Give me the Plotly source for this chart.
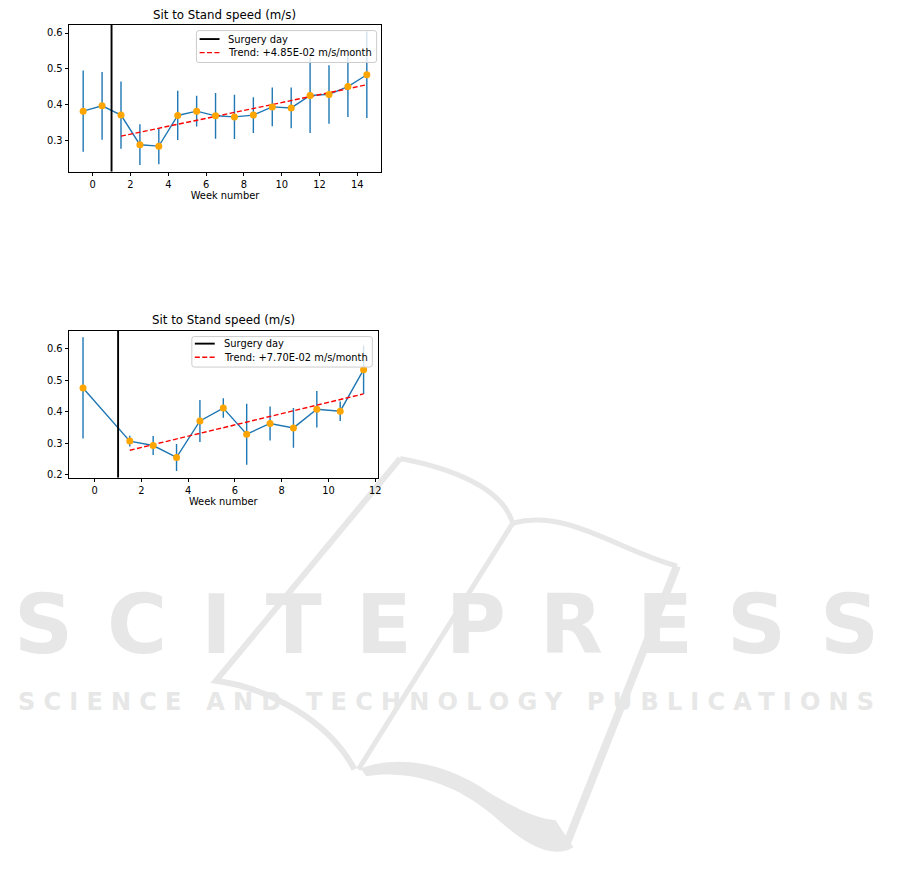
import plotly.graph_objects as go

# ---------------- data ----------------
weeks_a = [-0.5, 0.5, 1.5, 2.5, 3.5, 4.5, 5.5, 6.5, 7.5, 8.5, 9.5, 10.5, 11.5, 12.5, 13.5, 14.5]
speed_a = [0.381, 0.396, 0.370, 0.287, 0.283, 0.369, 0.381, 0.368, 0.365, 0.370,
           0.393, 0.390, 0.425, 0.428, 0.450, 0.483]
std_a = [0.114, 0.095, 0.094, 0.057, 0.051, 0.069, 0.043, 0.064, 0.062, 0.050,
         0.054, 0.057, 0.105, 0.082, 0.085, 0.121]
trend_x_a = [1.5, 14.5]
trend_y_a = [0.311, 0.455]
trend_label_a = "Trend: +4.85E-02 m/s/month"

weeks_b = [-0.5, 1.5, 2.5, 3.5, 4.5, 5.5, 6.5, 7.5, 8.5, 9.5, 10.5, 11.5]
speed_b = [0.476, 0.307, 0.293, 0.255, 0.371, 0.412, 0.329, 0.363, 0.349, 0.408, 0.402, 0.534]
std_b = [0.161, 0.017, 0.030, 0.043, 0.067, 0.031, 0.097, 0.054, 0.063, 0.058, 0.031, 0.077]
trend_x_b = [1.5, 11.5]
trend_y_b = [0.278, 0.457]
trend_label_b = "Trend: +7.70E-02 m/s/month"

surgery_week = 1
surgery_label = "Surgery day"
title_text = "Sit to Stand speed (m/s)"
xlabel_text = "Week number"
watermark_main = "SCITEPRESS"
watermark_sub = "SCIENCE AND TECHNOLOGY PUBLICATIONS"

# ---------------- layout helpers ----------------
W, H = 901, 887
FONT = "DejaVu Sans"
BLUE = "#1f77b4"
ORANGE = "#ffa500"
WM = "#e6e7e6"
TREND_DASH = "5px,2.4px"
FS = 9.9        # tick / label / legend font size
FS_TITLE = 11.8


def px(x):
    return x / W


def py(y):
    return 1 - y / H


def auto_range(lo, hi, m=0.05):
    d = hi - lo
    return [lo - m * d, hi + m * d]


def spaced(text, spacing):
    # letter spacing between letters only (no trailing space after the last one)
    return '<span style="letter-spacing:%spx">%s</span>%s' % (spacing, text[:-1], text[-1])


def path(cmds):
    out = []
    for c, pts in cmds:
        s = c
        for (x, y) in pts:
            s += " %.5f %.5f" % (px(x), py(y))
        out.append(s)
    return " ".join(out)


def rounded_box(x0, y0, x1, y1, r=2.5):
    return path([
        ("M", [(x0 + r, y0)]), ("L", [(x1 - r, y0)]), ("Q", [(x1, y0), (x1, y0 + r)]),
        ("L", [(x1, y1 - r)]), ("Q", [(x1, y1), (x1 - r, y1)]),
        ("L", [(x0 + r, y1)]), ("Q", [(x0, y1), (x0, y1 - r)]),
        ("L", [(x0, y0 + r)]), ("Q", [(x0, y0), (x0 + r, y0)]),
    ]) + " Z"


fig = go.Figure()

panels = [
    dict(weeks=weeks_a, speed=speed_a, std=std_a, tx=trend_x_a, ty=trend_y_a,
         tl=trend_label_a, xa="x", ya="y",
         xdom=[px(69.3), px(382.7)], ydom=[py(172.3), py(25)], title_y=15,
         leg=dict(box=(197.3, 30.7, 378.3, 62.7), rows=(39.2, 52.8), hx=(200.5, 220.5), tx=227.5)),
    dict(weeks=weeks_b, speed=speed_b, std=std_b, tx=trend_x_b, ty=trend_y_b,
         tl=trend_label_b, xa="x2", ya="y2",
         xdom=[px(69.3), px(379.3)], ydom=[py(479.3), py(331.7)], title_y=321.5,
         leg=dict(box=(192.7, 337.7, 374.0, 368.3), rows=(344.8, 358.5), hx=(195.7, 215.7), tx=222.8)),
]

annotations = []
shapes = []
for i, p in enumerate(panels):
    lo = min(s - e for s, e in zip(p["speed"], p["std"]))
    hi = max(s + e for s, e in zip(p["speed"], p["std"]))
    yr = auto_range(lo, hi)
    xr = auto_range(min(p["weeks"]), max(p["weeks"]))
    p["yr"], p["xr"] = yr, xr

    # line + error bars
    fig.add_trace(go.Scatter(
        x=p["weeks"], y=p["speed"], mode="lines",
        line=dict(color=BLUE, width=1.4),
        error_y=dict(type="data", array=p["std"], visible=True,
                     color=BLUE, thickness=1.4, width=0),
        xaxis=p["xa"], yaxis=p["ya"], showlegend=False, hoverinfo="skip"))
    # surgery day
    fig.add_trace(go.Scatter(
        x=[surgery_week, surgery_week], y=yr, mode="lines",
        line=dict(color="black", width=1.9), name=surgery_label,
        xaxis=p["xa"], yaxis=p["ya"], showlegend=False))
    # trend
    fig.add_trace(go.Scatter(
        x=p["tx"], y=p["ty"], mode="lines",
        line=dict(color="red", width=1.4, dash=TREND_DASH), name=p["tl"],
        xaxis=p["xa"], yaxis=p["ya"], showlegend=False))
    # markers
    fig.add_trace(go.Scatter(
        x=p["weeks"], y=p["speed"], mode="markers",
        marker=dict(color=ORANGE, size=7),
        xaxis=p["xa"], yaxis=p["ya"], showlegend=False))

    annotations.append(dict(
        text=title_text, xref="paper", yref="paper",
        x=(p["xdom"][0] + p["xdom"][1]) / 2, y=py(p["title_y"]),
        xanchor="center", yanchor="middle", showarrow=False,
        font=dict(family=FONT, size=FS_TITLE, color="black")))

    # matplotlib-style legend box (rounded, semi-transparent)
    lg = p["leg"]
    x0, y0, x1, y1 = lg["box"]
    shapes.append(dict(type="path", path=rounded_box(x0, y0, x1, y1), xref="paper", yref="paper",
                       fillcolor="rgba(255,255,255,0.8)", line=dict(color="#cccccc", width=1),
                       layer="above"))
    entries = [(surgery_label, dict(color="black", width=1.9)),
               (p["tl"], dict(color="red", width=1.4, dash=TREND_DASH))]
    for (label, ln), ry in zip(entries, lg["rows"]):
        shapes.append(dict(type="line", xref="paper", yref="paper",
                           x0=px(lg["hx"][0]), x1=px(lg["hx"][1]), y0=py(ry), y1=py(ry),
                           line=ln, layer="above"))
        annotations.append(dict(
            text=label, xref="paper", yref="paper", x=px(lg["tx"]), y=py(ry),
            xanchor="left", yanchor="middle", showarrow=False,
            font=dict(family=FONT, size=FS, color="black")))

axis_common = dict(showline=True, mirror=True, linecolor="black", linewidth=0.8,
                   ticks="outside", ticklen=3.5, tickwidth=0.8, tickcolor="black",
                   showgrid=False, zeroline=False,
                   tickfont=dict(family=FONT, size=FS, color="black"))

layout = dict(
    width=W, height=H, margin=dict(l=0, r=0, t=0, b=0),
    paper_bgcolor="white", plot_bgcolor="white",
    font=dict(family=FONT, color="black"), showlegend=False,
)
for i, p in enumerate(panels):
    sfx = "" if i == 0 else "2"
    layout["xaxis" + sfx] = dict(
        axis_common, domain=p["xdom"], range=p["xr"], dtick=2, tick0=0,
        anchor="y" + sfx,
        title=dict(text=xlabel_text, standoff=2, font=dict(family=FONT, size=FS)))
    layout["yaxis" + sfx] = dict(
        axis_common, domain=p["ydom"], range=p["yr"], dtick=0.1, tick0=0,
        tickformat=".1f", anchor="x" + sfx)

# ---------------- watermark ----------------
annotations.append(dict(
    text=spaced(watermark_main, 34),
    xref="paper", yref="paper", x=px(448), y=py(627),
    xanchor="center", yanchor="middle", showarrow=False,
    font=dict(family=FONT, size=82, color=WM, weight="bold")))
annotations.append(dict(
    text=spaced(watermark_sub, 8.2),
    xref="paper", yref="paper", x=px(448), y=py(704),
    xanchor="center", yanchor="middle", showarrow=False,
    font=dict(family=FONT, size=24, color=WM, weight="bold")))
layout["annotations"] = annotations

strokes = [
    ([("M", [(402, 460)]), ("L", [(217, 683)]),
      ("C", [(268, 690), (330, 722), (356, 772)])], 6),
    ([("M", [(402, 460)]), ("C", [(455, 470), (505, 490), (515, 525)])], 5),
    ([("M", [(515, 525)]), ("C", [(570, 510), (620, 552), (680, 568)])], 5),
    ([("M", [(680, 568)]), ("L", [(567, 852)])], 8),
    ([("M", [(515, 525)]), ("L", [(360, 772)])], 5),
]
for cmds, w in strokes:
    shapes.append(dict(type="path", path=path(cmds), xref="paper", yref="paper",
                       line=dict(color=WM, width=w), layer="below"))
band = [("M", [(362, 771)]), ("C", [(400, 757), (450, 765), (494, 797)]),
        ("C", [(520, 812), (540, 822), (558, 823)]), ("L", [(576, 850)]),
        ("C", [(555, 862), (530, 850), (494, 817)]),
        ("C", [(455, 785), (410, 772), (368, 779)])]
shapes.append(dict(type="path", path=path(band) + " Z", xref="paper", yref="paper",
                   fillcolor=WM, line=dict(width=0), layer="below"))
layout["shapes"] = shapes

fig.update_layout(**layout)
fig.write_html(
    "out.html",
    config={"displayModeBar": False},
    post_script="document.body.style.margin='0';document.body.style.overflow='hidden';",
)
